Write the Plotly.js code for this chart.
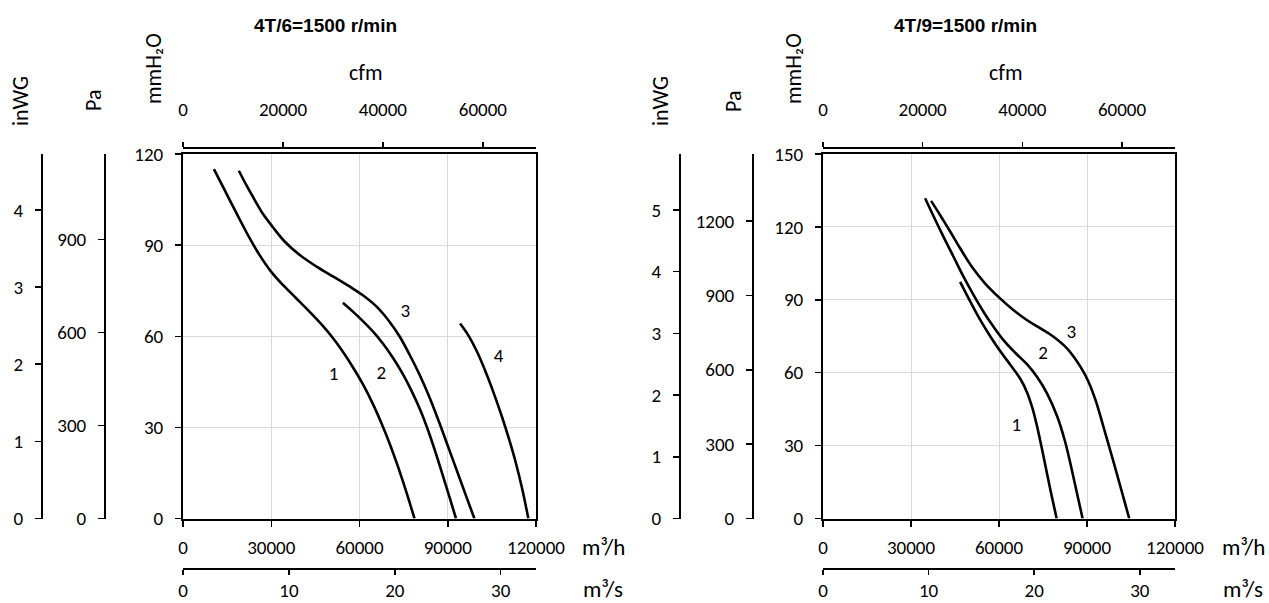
<!DOCTYPE html>
<html><head><meta charset="utf-8">
<script src="https://cdn.plot.ly/plotly-3.0.1.min.js"></script>
<style>html,body{margin:0;padding:0;background:#fff}</style>
</head><body><div id="chart" style="width:1269px;height:603px"></div>
<script>
// ---- Data: chart A (4T/6) ----  flow in m3/h, pressure in mmH2O
const titleA = "4T/6=1500 r/min";
const a1Q = [10500, 13000, 15850, 19250, 22650, 26050, 30000, 33950, 38500, 43000, 47550, 50950, 54350, 57750, 61150, 64500, 67350, 70200, 73000, 75850, 78700];
const a1H = [115.0, 110.3, 104.9, 98.5, 92.3, 86.7, 81.2, 76.9, 72.5, 68.1, 63.4, 59.4, 54.9, 49.8, 44.2, 37.8, 31.6, 24.8, 17.3, 8.9, 0];
const a2Q = [54350, 57750, 61150, 64550, 67950, 71300, 74700, 78100, 80800, 83400, 85900, 88300, 90600, 92800];
const a2H = [71.0, 68.1, 65.0, 61.6, 57.6, 53.0, 47.6, 41.2, 35.4, 28.8, 21.6, 14.2, 7.0, 0];
const a3Q = [19000, 21500, 24350, 27150, 30550, 34550, 39600, 45300, 50950, 56600, 61150, 65650, 70200, 73600, 77000, 80350, 83750, 87150, 90550, 93950, 96500, 99050];
const a3H = [114.5, 109.8, 104.9, 100.3, 95.9, 91.2, 86.8, 83.0, 79.7, 76.4, 73.5, 69.9, 64.8, 60.0, 54.0, 47.5, 40.0, 31.5, 22.5, 13.5, 6.7, 0];
const a4Q = [94200, 97000, 100000, 103000, 106000, 108600, 111000, 113200, 115300, 117400];
const a4H = [64.2, 60.3, 54.8, 48.0, 40.3, 33.0, 25.6, 18.1, 9.8, 0];
const aLabelQ = [51200, 67400, 75600, 107300];
const aLabelH = [47.3, 47.6, 67.9, 53.2];
const aLabelText = ["1", "2", "3", "4"];

// ---- Data: chart B (4T/9) ----
const titleB = "4T/9=1500 r/min";
const b1Q = [46750, 50200, 53600, 57050, 60450, 63900, 67300, 69600, 71500, 73000, 74500, 76000, 77600, 79650];
const b1H = [97.4, 89.3, 81.7, 74.9, 68.8, 63.2, 57.4, 51.8, 45.0, 37.8, 29.5, 20.7, 11.3, 0];
const b2Q = [34800, 37650, 41050, 44500, 47900, 51350, 54750, 58200, 61600, 65600, 69600, 73000, 76450, 79850, 82500, 84400, 86400, 88500];
const b2H = [131.8, 124.5, 116.0, 107.7, 99.5, 91.9, 85.0, 78.8, 73.3, 68.1, 63.4, 58.2, 51.3, 42.0, 31.8, 22.3, 11.4, 0];
const b3Q = [36850, 39900, 43350, 46750, 50750, 55300, 60450, 65000, 69600, 74150, 78700, 83250, 87850, 90500, 93000, 95400, 97600, 99900, 102150, 104400];
const b3H = [130.7, 124.9, 118.1, 111.2, 103.6, 96.7, 90.5, 85.7, 81.6, 78.2, 74.7, 69.9, 62.3, 56.3, 48.4, 38.6, 29.4, 19.6, 9.8, 0];
const bLabelQ = [65900, 75050, 84650];
const bLabelH = [37.8, 67.4, 76.4];
const bLabelText = ["1", "2", "3"];

// unit conversions
const M3H_PER_CFM = 1.699011;
const PA_PER_MMH2O = 9.80665;
const MMH2O_PER_INWG = 25.4;
const qMax = 120000;
const hMaxA = 120, hMaxB = 150;

const W = 1269, H = 603;
const px = v => v / W;
const py = v => 1 - v / H;
const FONT = "Carlito, Lato, 'Open Sans', sans-serif";
const lineStyle = {color: '#000', width: 2.6, shape: 'spline', smoothing: 1};

function curve(q, h, xa, ya) {
  return {x: q, y: h, xaxis: xa, yaxis: ya, type: 'scatter', mode: 'lines', line: lineStyle, hoverinfo: 'skip'};
}
function dummy(xa, ya) {
  return {x: [], y: [], xaxis: xa, yaxis: ya, type: 'scatter', mode: 'lines', hoverinfo: 'skip'};
}
const labelFont = {family: FONT, size: 19, color: '#000'};
const data = [
  curve(a1Q, a1H, 'x', 'y'), curve(a2Q, a2H, 'x', 'y'), curve(a3Q, a3H, 'x', 'y'), curve(a4Q, a4H, 'x', 'y'),
  {x: aLabelQ, y: aLabelH, text: aLabelText, mode: 'text', type: 'scatter', xaxis: 'x', yaxis: 'y', textfont: labelFont, hoverinfo: 'skip'},
  curve(b1Q, b1H, 'x4', 'y4'), curve(b2Q, b2H, 'x4', 'y4'), curve(b3Q, b3H, 'x4', 'y4'),
  {x: bLabelQ, y: bLabelH, text: bLabelText, mode: 'text', type: 'scatter', xaxis: 'x4', yaxis: 'y4', textfont: labelFont, hoverinfo: 'skip'},
  dummy('x2', 'y'), dummy('x3', 'y'), dummy('x', 'y2'), dummy('x', 'y3'),
  dummy('x5', 'y4'), dummy('x6', 'y4'), dummy('x4', 'y5'), dummy('x4', 'y6')
];

const tickFont = {family: FONT, size: 19, color: '#000'};
const base = {
  ticks: 'outside', ticklen: 6, tickwidth: 1.5, tickcolor: '#000',
  showline: true, linecolor: '#000', linewidth: 1.5,
  showgrid: false, zeroline: false, tickfont: tickFont, fixedrange: true,
  exponentformat: 'none', separatethousands: false, tickformat: 'd'
};
function ax(o) { return Object.assign({}, base, o); }

const domA = [px(183), px(536)];
const domB = [px(823), px(1175)];
const domY = [py(518.5), py(154)];

const layout = {
  width: W, height: H, margin: {l: 0, r: 0, t: 0, b: 0},
  paper_bgcolor: '#fff', plot_bgcolor: '#fff', showlegend: false,
  font: {family: FONT, size: 19, color: '#000'},
  // chart A
  xaxis: ax({domain: domA, anchor: 'y', range: [0, qMax], tick0: 0, dtick: 30000, mirror: true, linewidth: 2,
             showgrid: true, gridcolor: '#d9d9d9', gridwidth: 1, ticklabelstandoff: 5}),
  xaxis2: ax({overlaying: 'x', side: 'top', anchor: 'free', position: py(147), range: [0, qMax / M3H_PER_CFM],
              tick0: 0, dtick: 20000, ticklen: 5, ticklabelstandoff: 18}),
  xaxis3: ax({overlaying: 'x', side: 'bottom', anchor: 'free', position: py(568), range: [0, qMax / 3600],
              tick0: 0, dtick: 10, ticklen: 5, ticklabelstandoff: 0}),
  yaxis: ax({domain: domY, anchor: 'x', range: [0, hMaxA], tick0: 0, dtick: 30, mirror: true, linewidth: 2,
             showgrid: true, gridcolor: '#d9d9d9', gridwidth: 1, ticklabelstandoff: 8}),
  yaxis2: ax({overlaying: 'y', side: 'left', anchor: 'free', position: px(104), range: [0, hMaxA * PA_PER_MMH2O],
              tick0: 0, dtick: 300, ticklabelstandoff: 8}),
  yaxis3: ax({overlaying: 'y', side: 'left', anchor: 'free', position: px(41), range: [0, hMaxA / MMH2O_PER_INWG],
              tick0: 0, dtick: 1, ticklabelstandoff: 8}),
  // chart B
  xaxis4: ax({domain: domB, anchor: 'y4', range: [0, qMax], tick0: 0, dtick: 30000, mirror: true, linewidth: 2,
              showgrid: true, gridcolor: '#d9d9d9', gridwidth: 1, ticklabelstandoff: 5}),
  xaxis5: ax({overlaying: 'x4', side: 'top', anchor: 'free', position: py(147), range: [0, qMax / M3H_PER_CFM],
              tick0: 0, dtick: 20000, ticklen: 5, ticklabelstandoff: 18}),
  xaxis6: ax({overlaying: 'x4', side: 'bottom', anchor: 'free', position: py(568), range: [0, qMax / 3600],
              tick0: 0, dtick: 10, ticklen: 5, ticklabelstandoff: 0}),
  yaxis4: ax({domain: domY, anchor: 'x4', range: [0, hMaxB], tick0: 0, dtick: 30, mirror: true, linewidth: 2,
              showgrid: true, gridcolor: '#d9d9d9', gridwidth: 1, ticklabelstandoff: 8}),
  yaxis5: ax({overlaying: 'y4', side: 'left', anchor: 'free', position: px(752), range: [0, hMaxB * PA_PER_MMH2O],
              tick0: 0, dtick: 300, ticklabelstandoff: 8}),
  yaxis6: ax({overlaying: 'y4', side: 'left', anchor: 'free', position: px(679), range: [0, hMaxB / MMH2O_PER_INWG],
              tick0: 0, dtick: 1, ticklabelstandoff: 8}),
  annotations: []
};

function note(text, x, y, opts) {
  return Object.assign({text: text, xref: 'paper', yref: 'paper', x: px(x), y: py(y), showarrow: false,
    xanchor: 'center', yanchor: 'middle', font: {family: FONT, size: 22, color: '#000'}}, opts || {});
}
const A = layout.annotations;
[[0, titleA], [640, titleB]].forEach(([dx, t]) => {
  A.push(note('<b>' + t + '</b>', 325 + dx, 25, {font: {family: "'Liberation Sans', Arial, sans-serif", size: 19, color: '#000'}}));
  A.push(note('inWG', 20 + dx, 101, {textangle: -90}));
  A.push(note('Pa', 93 + dx, 101, {textangle: -90}));
  A.push(note('mmH₂O', 153 + dx, 69, {textangle: -90}));
  A.push(note('cfm', 366 + dx, 72));
  A.push(note('m³/h', 603 + dx, 547, {font: {family: FONT, size: 23, color: '#000'}}));
  A.push(note('m³/s', 603 + dx, 589, {font: {family: FONT, size: 23, color: '#000'}}));
});

Plotly.newPlot('chart', data, layout, {staticPlot: true, displayModeBar: false});
</script></body></html>
